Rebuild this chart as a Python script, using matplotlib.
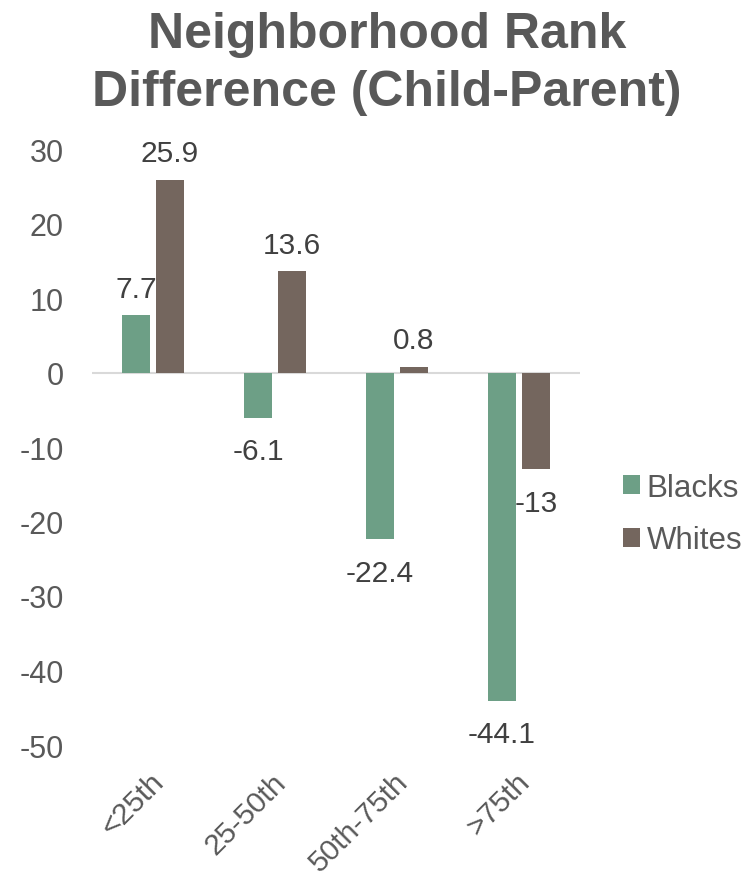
import matplotlib
matplotlib.use("Agg")
import matplotlib.pyplot as plt
import numpy as np
from matplotlib.transforms import ScaledTranslation

plt.rcParams['font.family'] = ['Liberation Sans', 'DejaVu Sans']

categories = ["<25th", "25-50th", "50th-75th", ">75th"]
blacks = [7.7, -6.1, -22.4, -44.1]
whites = [25.9, 13.6, 0.8, -13]
blacks_labels = ["7.7", "-6.1", "-22.4", "-44.1"]
whites_labels = ["25.9", "13.6", "0.8", "-13"]
yticks = [30, 20, 10, 0, -10, -20, -30, -40, -50]

green = "#6D9F86"
brown = "#74665E"
gray_text = "#595959"
dark_text = "#404040"

W, H = 748, 879
fig = plt.figure(figsize=(W / 100, H / 100), dpi=100)
ax = fig.add_axes([92 / W, 1 - 746 / H, (580 - 92) / W, (746 - 150) / H])

x = np.arange(len(categories))
bw = 0.23
off = 0.139
b1 = ax.bar(x - off, blacks, bw, color=green, label="Blacks", zorder=2)
b2 = ax.bar(x + off, whites, bw, color=brown, label="Whites", zorder=2)

ax.set_xlim(-0.5, len(categories) - 0.5)
ax.set_ylim(-50, 30)
ax.axhline(0, color="#D9D9D9", lw=1.5, zorder=1)

for s in ax.spines.values():
    s.set_visible(False)

ax.set_yticks(yticks)
ax.set_yticklabels([str(v) for v in yticks])
ax.tick_params(axis='y', length=0, labelsize=22, labelcolor=gray_text, pad=20.5)
ax.set_xticks(x)
ax.set_xticklabels(categories)
ax.tick_params(axis='x', length=0, labelsize=21.5, labelcolor=gray_text, pad=16)
for lbl in ax.get_xticklabels():
    lbl.set_rotation(45)
    lbl.set_rotation_mode('anchor')
    lbl.set_ha('right')
    lbl.set_va('top')
    lbl.set_transform(lbl.get_transform() + ScaledTranslation(-3 / 100, 0, fig.dpi_scale_trans))

for bars, vals, labs in ((b1, blacks, blacks_labels), (b2, whites, whites_labels)):
    for rect, v, t in zip(bars, vals, labs):
        cx = rect.get_x() + rect.get_width() / 2
        if v >= 0:
            ax.annotate(t, (cx, v), xytext=(0, 9), textcoords='offset points',
                        ha='center', va='bottom', fontsize=21.5, color=dark_text)
        else:
            ax.annotate(t, (cx, v), xytext=(0, -14), textcoords='offset points',
                        ha='center', va='top', fontsize=21.5, color=dark_text)

fig.text(387 / W, 1 - 12 / H, "Neighborhood Rank\nDifference (Child-Parent)",
         ha='center', va='top', fontsize=36, fontweight='bold', color=gray_text,
         linespacing=1.33)

leg = fig.legend(handles=[b1, b2], labels=["Blacks", "Whites"],
                 loc='center left', bbox_to_anchor=(623 / W, 1 - 515 / H),
                 frameon=False, fontsize=22.5, labelcolor=gray_text,
                 handlelength=0.55, handleheight=0.55, handletextpad=0.2,
                 labelspacing=0.72, borderpad=0, borderaxespad=0)

fig.savefig("out.png", dpi=100)
